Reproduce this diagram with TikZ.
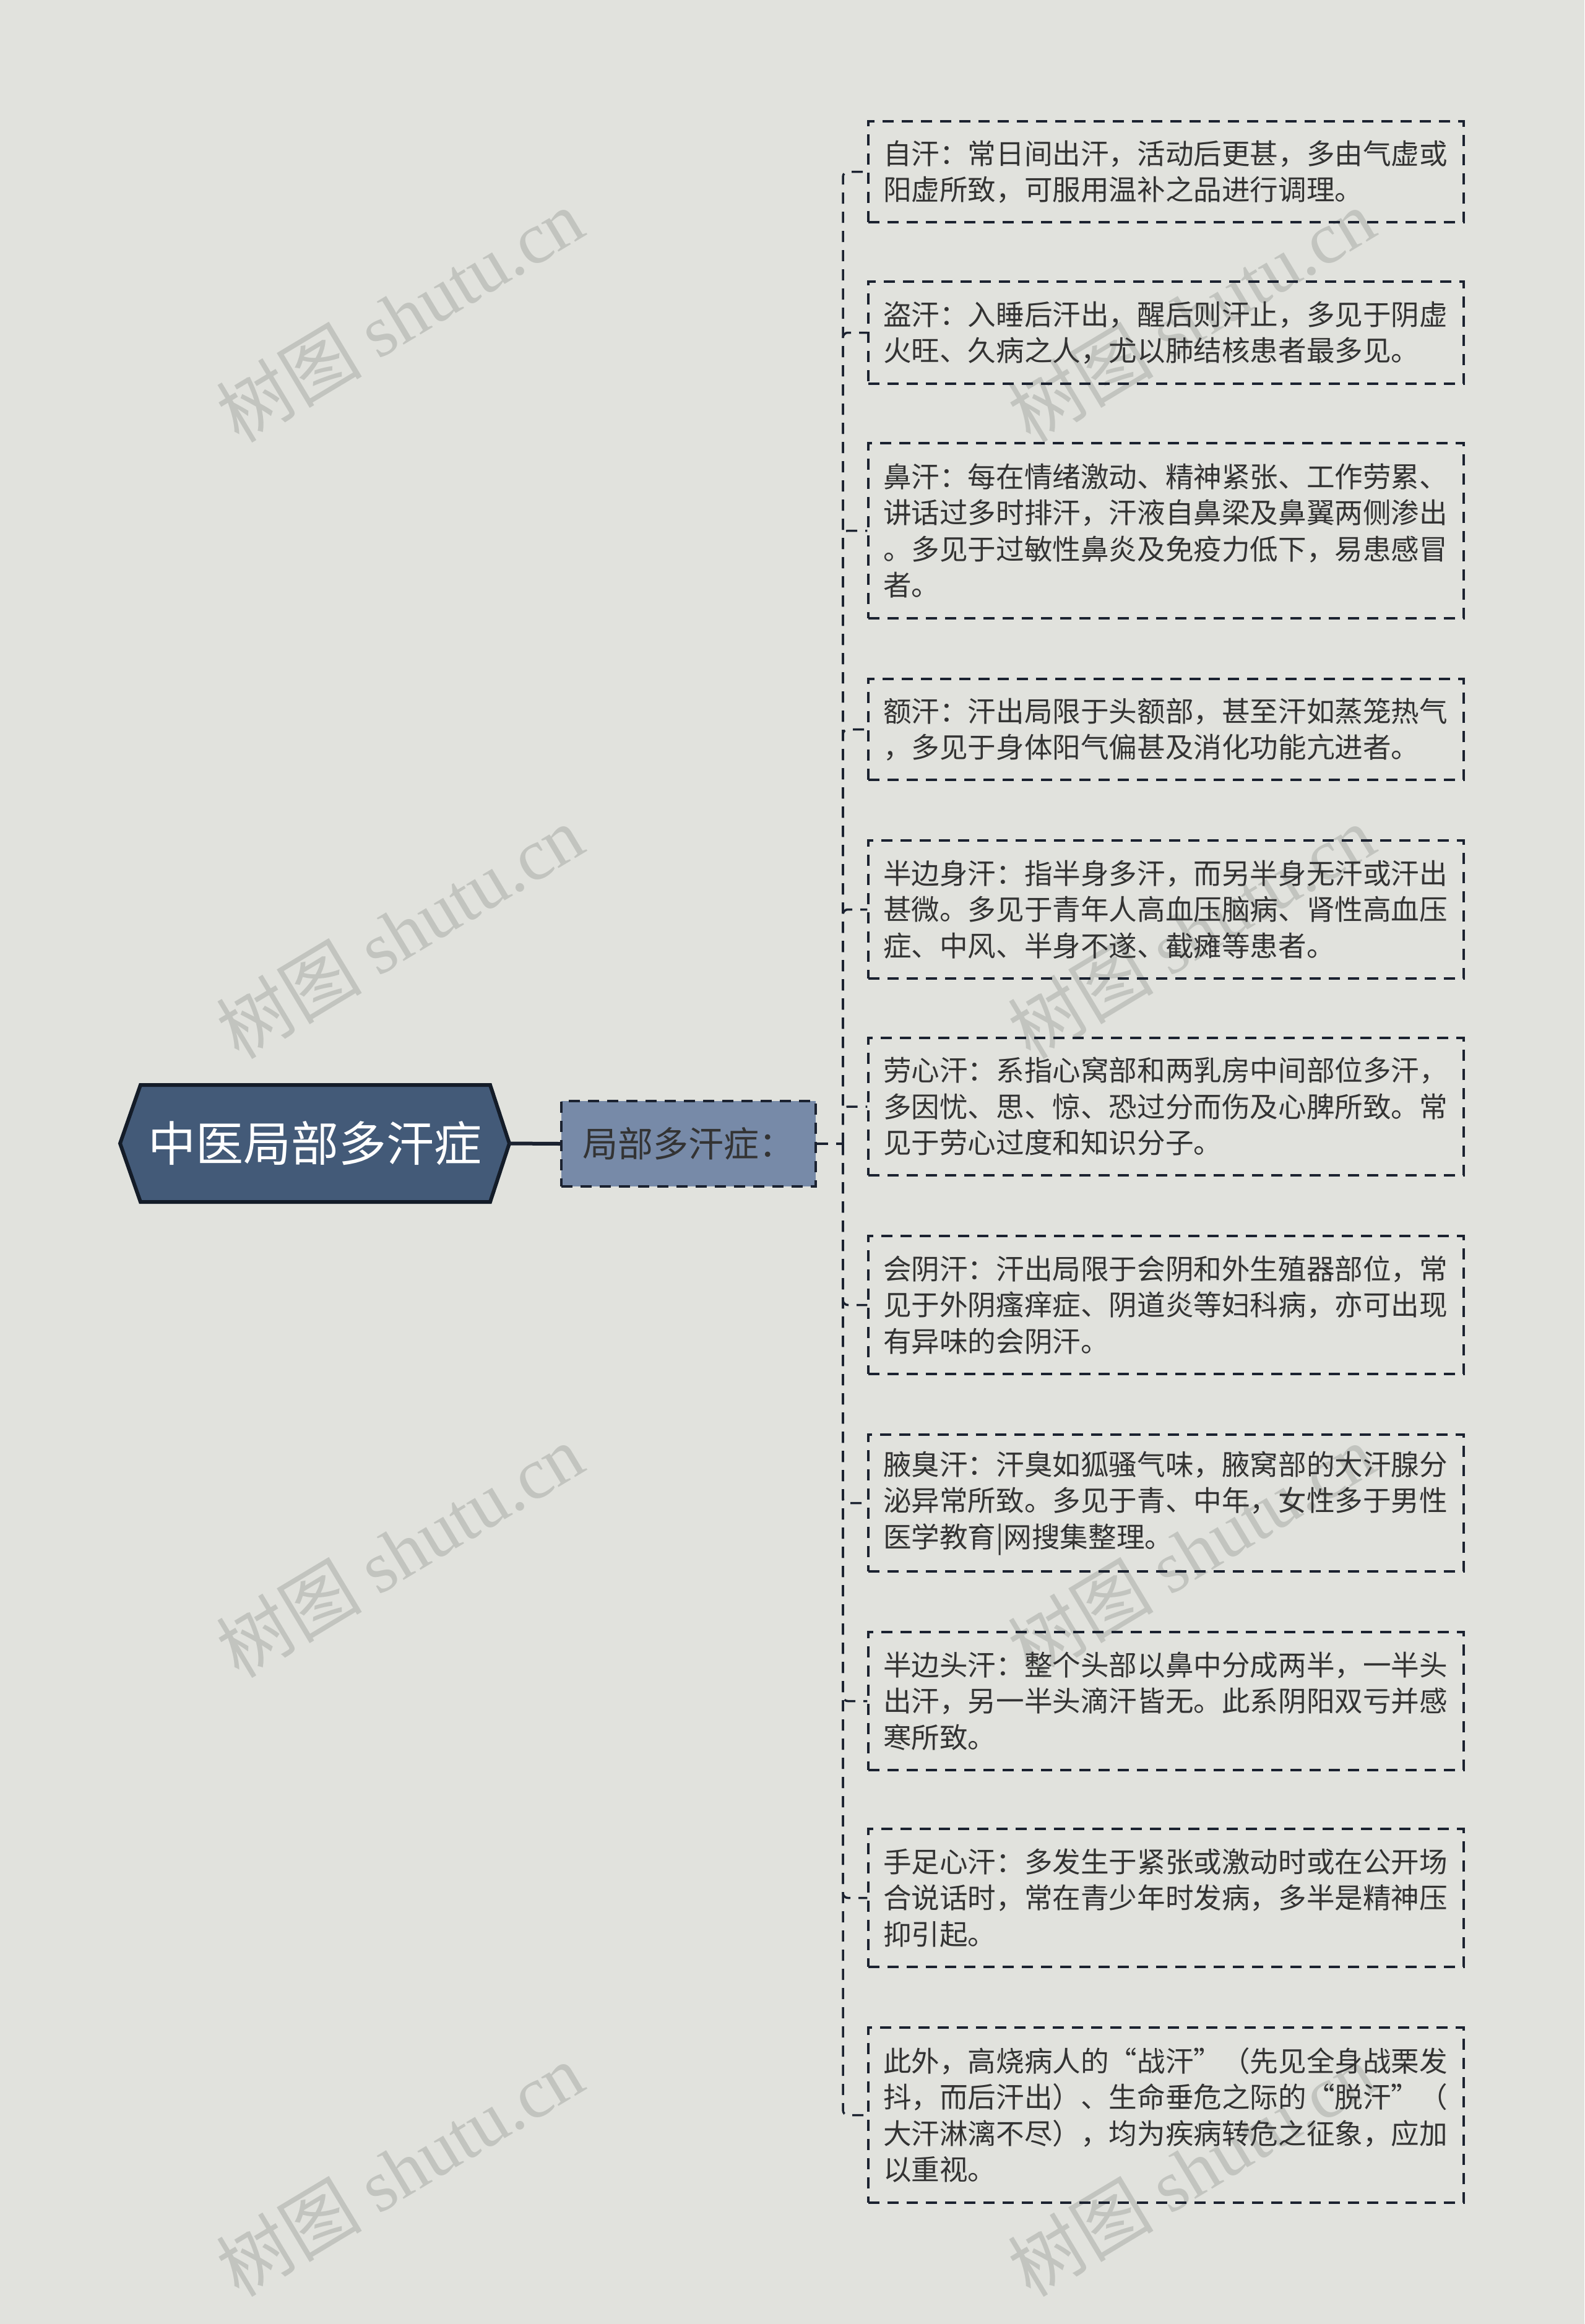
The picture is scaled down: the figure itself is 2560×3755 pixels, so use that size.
\documentclass[tikz,border=0pt]{standalone}
\usepackage{fontspec}
\setmainfont{Noto Sans CJK SC}
\newfontfamily\wmserif{Liberation Serif}
\definecolor{bg}{HTML}{E1E2DD}
\definecolor{rootfill}{HTML}{435A78}
\definecolor{rootline}{HTML}{141C28}
\definecolor{midfill}{HTML}{778AA8}
\definecolor{linec}{HTML}{1B2230}
\definecolor{txt}{HTML}{333333}
\definecolor{wm}{HTML}{C2C4BF}
\tikzset{
  wmark/.style={text=wm, rotate=31, inner sep=0pt, font=\fontsize{118}{120}\selectfont},
  rootnode/.style={rectangle, minimum width=629pt, minimum height=189pt, inner sep=0pt,
    text=white, font=\fontsize{77}{80}\selectfont},
  hexline/.style={draw=rootline, fill=rootfill, line width=6pt, line join=miter},
  midbox/.style={rectangle, draw=linec, fill=midfill, line width=3.5pt,
    dash pattern=on 18pt off 13pt, minimum width=411pt, minimum height=138pt,
    inner sep=0pt, text=txt, font=\fontsize{57}{60}\selectfont},
  leaf/.style={rectangle, draw=linec, line width=3.5pt, dash pattern=on 18pt off 13pt,
    text width=914pt, inner xsep=24pt, inner ysep=0pt, align=left, text=txt,
    font=\fontsize{45.6}{58.5}\selectfont},
  rootconn/.style={draw=linec, line width=6pt},
  dconn/.style={draw=linec, line width=3.5pt, dash pattern=on 18pt off 13pt, rounded corners=8pt}
}
\begin{document}
\begin{tikzpicture}[x=1pt,y=-1pt]
\fill[bg] (0,0) rectangle (2560,3755);
\useasboundingbox (0,0) rectangle (2560,3755);
% watermarks
\foreach \yy [count=\i] in {509,1505,2505,3505}{
  \node[wmark] (wmL\i) at (646,\yy) {树图 {\wmserif shutu.cn}};
  \node[wmark] (wmR\i) at (1925,\yy) {树图 {\wmserif shutu.cn}};
}
% root hexagon
\draw[hexline] (194,1847.5) -- (227,1753) -- (792,1753) -- (823,1847.5) -- (792,1942) -- (227,1942) -- cycle;
\node[rootnode] (root) at (508.5,1847.5) {中医局部多汗症};
\node[midbox] (mid) at (1112.5,1848) {局部多汗症：};
\draw[rootconn] (root.east) -- (mid.west);
\coordinate (trunk) at (1362,1848);
% leaves
\node[leaf, minimum height=163pt] (b1) at (1884,277.5) {自汗：常日间出汗，活动后更甚，多由气虚或\\阳虚所致，可服用温补之品进行调理。};
\node[leaf, minimum height=165pt] (b2) at (1884,537.5) {盗汗：入睡后汗出，醒后则汗止，多见于阴虚\\火旺、久病之人，尤以肺结核患者最多见。};
\node[leaf, minimum height=283pt] (b3) at (1884,857.5) {鼻汗：每在情绪激动、精神紧张、工作劳累、\\讲话过多时排汗，汗液自鼻梁及鼻翼两侧渗出\\。多见于过敏性鼻炎及免疫力低下，易患感冒\\者。};
\node[leaf, minimum height=163pt] (b4) at (1884,1178.5) {额汗：汗出局限于头额部，甚至汗如蒸笼热气\\，多见于身体阳气偏甚及消化功能亢进者。};
\node[leaf, minimum height=223pt] (b5) at (1884,1469.5) {半边身汗：指半身多汗，而另半身无汗或汗出\\甚微。多见于青年人高血压脑病、肾性高血压\\症、中风、半身不遂、截瘫等患者。};
\node[leaf, minimum height=222pt] (b6) at (1884,1788) {劳心汗：系指心窝部和两乳房中间部位多汗，\\多因忧、思、惊、恐过分而伤及心脾所致。常\\见于劳心过度和知识分子。};
\node[leaf, minimum height=223pt] (b7) at (1884,2108.5) {会阴汗：汗出局限于会阴和外生殖器部位，常\\见于外阴瘙痒症、阴道炎等妇科病，亦可出现\\有异味的会阴汗。};
\node[leaf, minimum height=221pt] (b8) at (1884,2428.5) {腋臭汗：汗臭如狐骚气味，腋窝部的大汗腺分\\泌异常所致。多见于青、中年，女性多于男性\\医学教育|网搜集整理。};
\node[leaf, minimum height=223pt] (b9) at (1884,2748.5) {半边头汗：整个头部以鼻中分成两半，一半头\\出汗，另一半头滴汗皆无。此系阴阳双亏并感\\寒所致。};
\node[leaf, minimum height=223pt] (b10) at (1884,3066.5) {手足心汗：多发生于紧张或激动时或在公开场\\合说话时，常在青少年时发病，多半是精神压\\抑引起。};
\node[leaf, minimum height=283pt] (b11) at (1884,3417.5) {此外，高烧病人的“战汗”（先见全身战栗发\\抖，而后汗出）、生命垂危之际的“脱汗”（\\大汗淋漓不尽），均为疾病转危之征象，应加\\以重视。};
% connectors
\draw[dconn] (mid.east) -- (trunk);
\foreach \i in {1,...,11}{
  \draw[dconn] (trunk) |- (b\i.west);
}
\end{tikzpicture}
\end{document}
